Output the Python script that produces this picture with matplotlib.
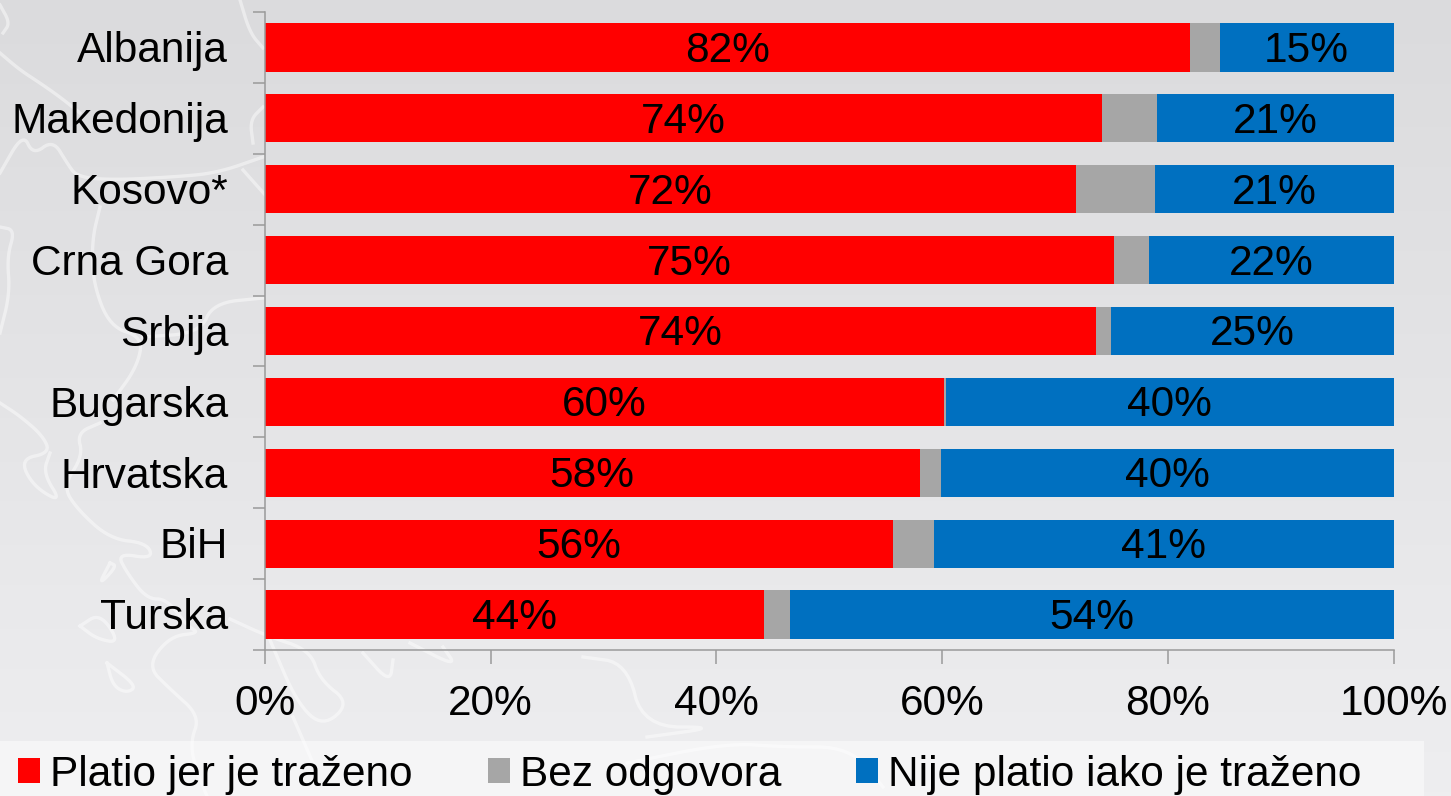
import numpy as np
import matplotlib.pyplot as plt
from matplotlib.colors import LinearSegmentedColormap
from matplotlib.patches import Rectangle
from matplotlib.ticker import FixedLocator, PercentFormatter
from matplotlib.transforms import ScaledTranslation

plt.rcParams['font.family'] = ['Liberation Sans', 'DejaVu Sans']

# values
countries = ['Albanija', 'Makedonija', 'Kosovo*', 'Crna Gora', 'Srbija',
             'Bugarska', 'Hrvatska', 'BiH', 'Turska']
platio = [82.0, 74.2, 71.9, 75.2, 73.6, 60.2, 58.0, 55.6, 44.2]
bez_odgovora = [2.6, 4.8, 7.0, 3.1, 1.4, 0.1, 1.9, 3.7, 2.3]
nije_platio = [15.4, 21.0, 21.1, 21.7, 25.0, 39.7, 40.1, 40.7, 53.5]
series_names = ['Platio jer je traženo', 'Bez odgovora', 'Nije platio iako je traženo']
xticks = [0, 20, 40, 60, 80, 100]

W, H = 1451, 796
FS = 30.5
fig = plt.figure(figsize=(W / 100, H / 100), dpi=100)

# background: grey gradient, pale band under the legend, faint white map outline
bg = fig.add_axes([0, 0, 1, 1], zorder=0)
grad = np.linspace(0, 1, 200)[:, None]
bg.imshow(grad, cmap=LinearSegmentedColormap.from_list('bg', ['#dbdbdd', '#eeeef0']),
          extent=[0, W, H, 0], aspect='auto')
bg.set_xlim(0, W)
bg.set_ylim(H, 0)
bg.axis('off')
bg.add_patch(Rectangle((0, 741), 1424, 55, color='#f5f5f6', lw=0))

outline = [
    [(0, 53), (20, 70), (40, 83), (60, 97), (80, 113)],
    [(0, 173), (23, 133), (33, 155), (53, 140), (67, 163), (77, 177), (113, 180),
     (173, 177), (217, 173), (263, 157)],
    [(100, 207), (92, 240), (93, 283), (110, 327), (143, 337), (137, 367), (113, 400)],
    [(143, 337), (200, 333), (213, 303), (263, 298)],
    [(240, 0), (250, 33), (263, 48)],
    [(0, 5), (10, 23), (3, 33)],
    [(0, 227), (15, 230), (7, 257), (10, 293), (0, 333)],
    [(263, 107), (250, 120), (253, 143)],
    [(243, 170), (267, 197)],
    [(0, 403), (20, 416), (43, 436), (50, 453), (20, 459), (33, 486), (62, 503), (43, 473), (50, 453)],
    [(100, 423), (77, 433), (83, 456), (63, 486), (77, 509), (110, 539), (147, 543),
     (153, 559), (117, 553), (127, 573), (147, 599), (167, 599), (187, 626), (200, 633),
     (170, 636), (147, 666), (170, 689), (200, 716), (190, 743), (197, 773), (207, 796)],
    [(110, 563), (98, 586), (117, 566), (110, 563)],
    [(80, 626), (100, 613), (120, 643), (97, 639), (80, 626)],
    [(107, 663), (113, 686), (127, 693), (137, 686), (107, 663)],
    [(230, 619), (267, 636), (310, 650), (320, 680), (350, 703), (323, 727), (297, 703), (270, 640)],
    [(363, 653), (390, 683), (393, 660)],
    [(410, 643), (457, 667), (443, 647)],
    [(583, 657), (627, 663), (643, 727), (720, 727), (647, 737)],
    [(627, 763), (727, 743), (783, 747), (850, 747), (883, 787)],
    [(293, 717), (313, 763)],
]


def smooth(pts, rounds=3):
    # corner cutting so the outline does not look polygonal
    p = np.array(pts, dtype=float)
    for _ in range(rounds):
        q = np.empty((2 * len(p) - 2, 2))
        q[0::2] = 0.75 * p[:-1] + 0.25 * p[1:]
        q[1::2] = 0.25 * p[:-1] + 0.75 * p[1:]
        p = np.vstack([p[0], q, p[-1]])
    return p


for pts in outline:
    p = smooth(pts)
    bg.plot(p[:, 0], p[:, 1], color='white', lw=2.4, alpha=0.45, solid_joinstyle='round')

# chart area: x 265-1393.6, y 12-650 in pixels
ax = fig.add_axes([265 / W, 1 - 650 / H, 1128.6 / W, 638 / H], zorder=1)
ax.patch.set_visible(False)

y = np.arange(len(countries))
left2 = np.array(platio)
left3 = left2 + np.array(bez_odgovora)
b1 = ax.barh(y, platio, height=0.68, color='#ff0000', label=series_names[0])
b2 = ax.barh(y, bez_odgovora, left=left2, height=0.68, color='#a6a6a6', label=series_names[1])
b3 = ax.barh(y, nije_platio, left=left3, height=0.68, color='#0070c0', label=series_names[2])
for bars in (b1, b3):
    for t in ax.bar_label(bars, fmt='%.0f%%', label_type='center', fontsize=FS, color='black'):
        t.xyann = (0, -2.5)

ax.set_xlim(0, 100)
ax.set_ylim(len(countries) - 0.5, -0.5)
ax.set_xticks(xticks)
ax.xaxis.set_major_formatter(PercentFormatter(100, decimals=0))
ax.set_yticks(y, countries)
ax.yaxis.set_minor_locator(FixedLocator(np.arange(-0.5, len(countries))))
ax.tick_params(axis='y', which='major', length=0, pad=26.5, labelsize=FS)
ax.tick_params(axis='y', which='minor', length=8.6, width=1.1, color='#9a9a9a')
ax.tick_params(axis='x', which='major', length=10, width=1.1, color='#9a9a9a', pad=14.5, labelsize=FS)
nudge = ScaledTranslation(0, 0.5 / 72, fig.dpi_scale_trans)
for lab in ax.get_yticklabels():
    lab.set_transform(lab.get_transform() + nudge)
for side in ('top', 'right'):
    ax.spines[side].set_visible(False)
for side in ('left', 'bottom'):
    ax.spines[side].set_color('#9a9a9a')
    ax.spines[side].set_linewidth(1.1)

fig.legend(handles=[b1, b2, b3], loc='lower left', ncol=3, frameon=False, fontsize=FS,
           bbox_to_anchor=(14 / W, -3 / H), borderaxespad=0, borderpad=0.1,
           handlelength=0.52, handleheight=0.52, handletextpad=0.236, columnspacing=1.77)

fig.savefig('out.png', dpi=100)
